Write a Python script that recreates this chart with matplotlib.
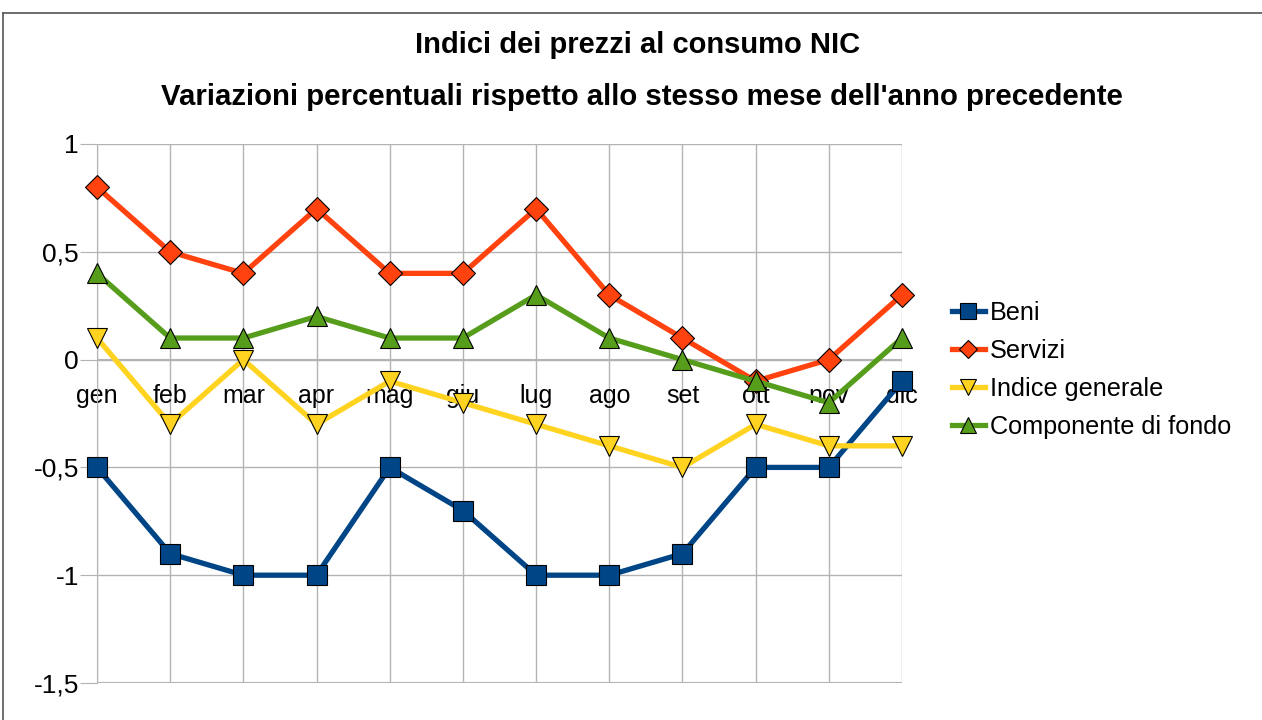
import matplotlib.pyplot as plt
from matplotlib.lines import Line2D

plt.rcParams['font.family'] = ['Liberation Sans', 'DejaVu Sans']

# Dati
mesi = ['gen', 'feb', 'mar', 'apr', 'mag', 'giu', 'lug', 'ago', 'set', 'ott', 'nov', 'dic']
beni = [-0.5, -0.9, -1.0, -1.0, -0.5, -0.7, -1.0, -1.0, -0.9, -0.5, -0.5, -0.1]
servizi = [0.8, 0.5, 0.4, 0.7, 0.4, 0.4, 0.7, 0.3, 0.1, -0.1, 0.0, 0.3]
indice_generale = [0.1, -0.3, 0.0, -0.3, -0.1, -0.2, -0.3, -0.4, -0.5, -0.3, -0.4, -0.4]
componente_fondo = [0.4, 0.1, 0.1, 0.2, 0.1, 0.1, 0.3, 0.1, 0.0, -0.1, -0.2, 0.1]
y_ticks = [1, 0.5, 0, -0.5, -1, -1.5]
y_labels = ['1', '0,5', '0', '-0,5', '-1', '-1,5']

fig = plt.figure(figsize=(12.62, 7.2), dpi=100)
ax = fig.add_axes([97 / 1262, 1 - 683 / 720, 805 / 1262, 539 / 720])

x = list(range(len(mesi)))
serie = [
    ('Beni', beni, '#004586', 's', 14),
    ('Servizi', servizi, '#ff420e', 'D', 12),
    ('Indice generale', indice_generale, '#ffd320', 'v', 14),
    ('Componente di fondo', componente_fondo, '#579d1c', '^', 14),
]
for nome, valori, colore, marker, ms in serie:
    ax.plot(x, valori, color=colore, lw=3.8, marker=marker, markersize=ms,
            markerfacecolor=colore, markeredgecolor='black', markeredgewidth=0.8,
            label=nome, clip_on=False, zorder=3)

ax.set_xlim(0, 11)
ax.set_ylim(-1.5, 1)
ax.set_yticks(y_ticks)
ax.set_yticklabels(y_labels, fontsize=19)
ax.tick_params(axis='y', length=12, color='#b3b3b3', pad=1)

ax.set_xticks(x)
ax.set_xticklabels([])
ax.tick_params(axis='x', length=0)
for i, m in enumerate(mesi):
    ax.text(i, -0.17, m, ha='center', va='center', fontsize=18, zorder=2)

ax.grid(True, color='#b3b3b3', lw=1)
ax.set_axisbelow(True)
for s in ['top', 'right', 'bottom']:
    ax.spines[s].set_visible(False)
ax.spines['left'].set_color('#b3b3b3')
ax.axhline(0, color='#b3b3b3', lw=1.5, zorder=1)
ax.axhline(-1.5, color='#b3b3b3', lw=1.5, zorder=1)

fig.text(638 / 1262, 1 - 45 / 720, 'Indici dei prezzi al consumo NIC',
         ha='center', va='center', fontsize=21, fontweight='bold')
fig.text(642 / 1262, 1 - 97 / 720,
         "Variazioni percentuali rispetto allo stesso mese dell'anno precedente",
         ha='center', va='center', fontsize=21.2, fontweight='bold')

fig.legend(loc='center left', bbox_to_anchor=(952 / 1262, 1 - 370 / 720),
           frameon=False, fontsize=18.2, handlelength=1.3, handletextpad=0.2,
           labelspacing=0.55, borderaxespad=0, borderpad=0, markerscale=0.8)

# cornice
fig.add_artist(Line2D([3 / 1262, 1], [1 - 13 / 720, 1 - 13 / 720], color='#555555', lw=1.2))
fig.add_artist(Line2D([3 / 1262, 3 / 1262], [0, 1 - 13 / 720], color='#555555', lw=1.2))

fig.savefig('out.png', dpi=100)
